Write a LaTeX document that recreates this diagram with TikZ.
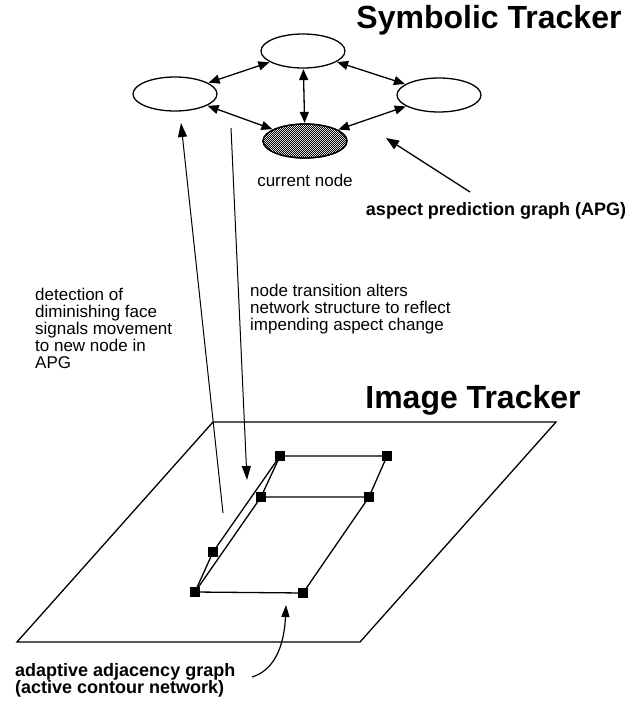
\documentclass[tikz,border=0pt]{standalone}
\usepackage{fontspec}
\setmainfont{Liberation Sans}
\usetikzlibrary{arrows.meta,patterns,shapes.geometric}
% fine checkerboard used for the highlighted state
\pgfdeclarepatternformonly{finechecker}{\pgfpointorigin}{\pgfqpoint{2.4pt}{2.4pt}}{\pgfqpoint{2.4pt}{2.4pt}}{%
  \pgfpathrectangle{\pgfpointorigin}{\pgfqpoint{1.2pt}{1.2pt}}%
  \pgfpathrectangle{\pgfqpoint{1.2pt}{1.2pt}}{\pgfqpoint{1.2pt}{1.2pt}}%
  \pgfusepath{fill}}
\begin{document}
\begin{tikzpicture}[x=1pt,y=-1pt,
  state/.style={draw,line width=1.3pt,ellipse,minimum width=84pt,minimum height=34pt,inner sep=0pt},
  link/.style={line width=1.3pt,{Triangle[length=11pt,width=9pt]}-{Triangle[length=11pt,width=9pt]},shorten <=0.5pt,shorten >=0.5pt},
  ptr/.style={line width=1.3pt,-{Triangle[length=13pt,width=10pt]}},
  long ptr/.style={line width=1pt,-{Triangle[length=14pt,width=9pt]}},
  vertex/.style={fill=black,minimum size=10pt,inner sep=0pt,outer sep=0pt},
  edge/.style={line width=1.3pt},
  title/.style={font=\fontsize{32}{34}\selectfont\bfseries,inner sep=0pt},
  note/.style={font=\fontsize{17}{17}\selectfont,align=left,inner sep=0pt},
  bnote/.style={font=\fontsize{18}{17.5}\selectfont\bfseries,align=left,inner sep=0pt}
]
\useasboundingbox (0,0) rectangle (635,701);

% ---- symbolic tracker: aspect prediction graph ----
\node[title] (symtitle) at (489,20) {Symbolic Tracker};
\node[state] (top) at (303,51) {};
\node[state] (left) at (175,94) {};
\node[state] (right) at (439,95) {};
\node[state,fill=black!30,pattern=finechecker,pattern color=black] (cur) at (305,141) {};
\node[state] at (cur) {};

\draw[link] (left) -- (top);
\draw[link] (top) -- (right);
\draw[link] (top) -- (cur);
\draw[link] (left) -- (cur);
\draw[link] (right) -- (cur);

\node[font=\fontsize{17}{17}\selectfont,inner sep=0pt] (curlbl) at (305,180) {current node};
\node[bnote] (apglbl) at (496,211) {aspect prediction graph (APG)};
\coordinate (apgtail) at (470,192);
\coordinate (apghead) at (386,138);
\draw[ptr] (apgtail) -- (apghead);

% ---- explanatory notes ----
\node[note,anchor=north west] (detect) at (35,288) {detection of\\diminishing face\\signals movement\\to new node in\\APG};
\node[note,anchor=north west] (trans) at (250,284) {node transition alters\\network structure to reflect\\impending aspect change};

% ---- image tracker ----
\node[title] (imgtitle) at (473,400) {Image Tracker};
\coordinate (p1) at (213,422);
\coordinate (p2) at (556,422);
\coordinate (p3) at (360,642);
\coordinate (p4) at (17,642);
\draw[line width=1.3pt,line join=miter] (p1) -- (p2) -- (p3) -- (p4) -- cycle;

% active contour network
\node[vertex] (A) at (280,456) {};
\node[vertex] (B) at (387,456) {};
\node[vertex] (C) at (261,497) {};
\node[vertex] (D) at (369,497) {};
\node[vertex] (E) at (213,552) {};
\node[vertex] (F) at (195,592) {};
\node[vertex] (G) at (303,593) {};
\draw[edge] (A.center) -- (B.center) -- (D.center) -- (C.center) -- (A.center);
\draw[edge] (C.center) -- (F.center) -- (G.center) -- (D.center);
\draw[edge] (A.center) -- (E.center) -- (F.center);

% links between the two trackers
\coordinate (upfoot) at (223,513);
\coordinate (uphead) at (181,123);
\draw[long ptr] (upfoot) -- (uphead);
\coordinate (downtail) at (231,128);
\coordinate (downhead) at (247,480);
\draw[long ptr] (downtail) -- (downhead);

% label of the contour network
\node[bnote,anchor=north west] (aag) at (15,663) {adaptive adjacency graph\\(active contour network)};
\coordinate (aagtail) at (252,677);
\coordinate (aaghead) at (286,605);
\draw[line width=1.2pt,-{Triangle[length=12pt,width=8pt]}] (aagtail) .. controls (272,671) and (284,650) .. (aaghead);
\end{tikzpicture}
\end{document}
